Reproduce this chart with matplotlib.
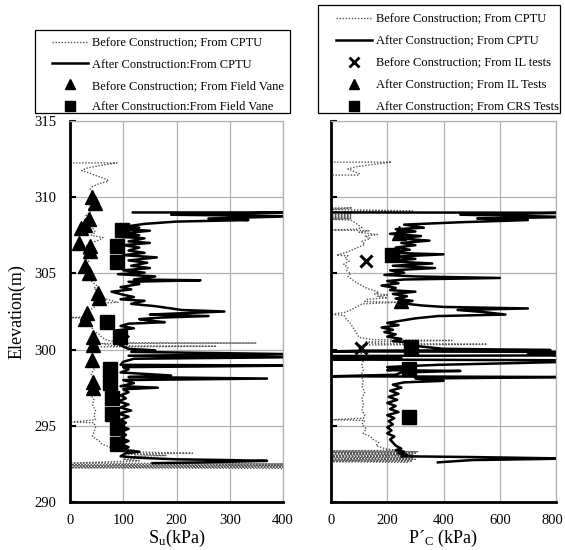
import matplotlib
matplotlib.use("Agg")
import matplotlib.pyplot as plt
from matplotlib.patches import Rectangle
from matplotlib.lines import Line2D
import matplotlib.transforms as mtransforms
import numpy as np

plt.rcParams["font.family"] = ["Liberation Serif", "DejaVu Serif"]
plt.rcParams["mathtext.fontset"] = "stix"

# ---- undrained shear strength profiles, (elevation m, Su kPa) ----
su_cptu_before = [
    (312.25, 0), (312.25, 88), (312.1, 60), (311.9, 30), (311.75, 22), (311.6, 35),
    (311.4, 50), (311.15, 70), (311.05, 72), (310.9, 55), (310.7, 42), (310.5, 38),
    (310.2, 45), (310.0, 40), (309.8, 38), (309.5, 42), (309.2, 35), (309.0, 38),
    (308.8, 30), (308.6, 40), (308.3, 35), (308.0, 42), (307.7, 48), (307.5, 40),
    (307.35, 62), (307.2, 55), (307.0, 40), (306.8, 30), (306.5, 35), (306.2, 25),
    (306.0, 30), (305.8, 35), (305.5, 28), (305.2, 40), (305.0, 38), (304.8, 45),
    (304.5, 40), (304.2, 50), (304.0, 45), (303.8, 55), (303.5, 60), (303.3, 70),
    (303.1, 90), (303.05, 56), (302.9, 50), (302.6, 38), (302.3, 30), (302.15, 25),
    (302.1, 0), (302.05, 25), (301.8, 30), (301.5, 40), (301.2, 45), (301.0, 55),
    (300.8, 60), (300.6, 70), (300.45, 100), (300.43, 350), (300.4, 60), (300.25, 80),
    (300.22, 275), (300.18, 50), (300.0, 45), (299.8, 40), (299.5, 42), (299.2, 38),
    (299.0, 42), (298.7, 45), (298.4, 40), (298.0, 45), (297.6, 42), (297.3, 45),
    (297.0, 40), (296.7, 45), (296.4, 42), (296.0, 48), (295.7, 45), (295.4, 48),
    (295.3, 20), (295.25, 0), (295.2, 45), (294.9, 48), (294.6, 45), (294.3, 42),
    (294.0, 55), (293.8, 60), (293.6, 75), (293.5, 90), (293.4, 120), (293.3, 100),
    (293.2, 230), (293.15, 110), (293.05, 180), (293.0, 120), (292.9, 150), (292.8, 100),
    (292.7, 130), (292.55, 0), (292.5, 400), (292.45, 0), (292.4, 400), (292.35, 0),
    (292.3, 400), (292.25, 0), (292.2, 400),
]
su_cptu_after = [
    (309.0, 118), (309.0, 420), (308.85, 190), (308.75, 420), (308.6, 260), (308.5, 335),
    (308.4, 200), (308.25, 140), (308.1, 110), (308.0, 130), (307.9, 100), (307.8, 150),
    (307.65, 105), (307.5, 130), (307.4, 95), (307.3, 140), (307.1, 110), (307.0, 150),
    (306.85, 100), (306.7, 130), (306.5, 110), (306.35, 140), (306.2, 100), (306.05, 163),
    (305.85, 110), (305.7, 145), (305.5, 115), (305.35, 150), (305.2, 100), (305.05, 140),
    (304.95, 90), (304.8, 160), (304.6, 120), (304.55, 245), (304.45, 110), (304.3, 130),
    (304.1, 95), (303.95, 115), (303.8, 78), (303.6, 100), (303.45, 120), (303.3, 95),
    (303.2, 140), (303.0, 115), (302.85, 160), (302.7, 190), (302.6, 210), (302.5, 290),
    (302.4, 220), (302.3, 150), (302.2, 260), (302.1, 170), (302.0, 130), (301.9, 150),
    (301.8, 178), (301.7, 110), (301.55, 95), (301.4, 120), (301.25, 85), (301.1, 100),
    (301.0, 85), (300.85, 110), (300.7, 95), (300.55, 100), (300.4, 90), (300.2, 100),
    (300.05, 110), (299.95, 160), (299.85, 115), (299.7, 420), (299.6, 110), (299.5, 420),
    (299.4, 120), (299.2, 100), (299.0, 95), (298.95, 420), (298.9, 270), (298.85, 100),
    (298.7, 110), (298.5, 95), (298.3, 190), (298.2, 110), (298.1, 370), (298.0, 100),
    (297.8, 120), (297.6, 95), (297.5, 165), (297.4, 100), (297.2, 110), (297.0, 95),
    (296.8, 105), (296.6, 90), (296.4, 110), (296.2, 95), (296.0, 115), (295.8, 90),
    (295.6, 110), (295.4, 95), (295.2, 105), (295.0, 90), (294.8, 110), (294.6, 95),
    (294.4, 105), (294.2, 95), (294.0, 110), (293.8, 95), (293.6, 110), (293.4, 100),
    (293.3, 130), (293.2, 105), (293.0, 95), (292.9, 130), (292.8, 200), (292.75, 300),
    (292.7, 370), (292.6, 250), (292.55, 155),
]
vane_before_elev = [310.0, 309.6, 308.6, 308.2, 308.0, 307.0, 306.8, 306.5, 305.5, 305.0,
                    303.7, 303.4, 302.4, 302.0, 300.8, 300.3, 299.3, 297.9, 297.5]
vane_before_su = [42, 47, 35, 28, 20, 16, 38, 37, 28, 35,
                  52, 55, 31, 29, 44, 43, 42, 43, 43]
vane_after_elev = [307.85, 306.8, 305.75, 301.8, 300.8, 298.7, 297.8, 296.8, 295.8, 294.85, 293.8]
vane_after_su = [97, 88, 88, 69, 94, 75, 75, 78, 78, 89, 89]

# ---- preconsolidation pressure profiles, (elevation m, P'c kPa) ----
pc_cptu_before = [
    (312.3, 0), (312.3, 215), (312.15, 150), (312.0, 90), (311.85, 60), (311.7, 80),
    (311.55, 100), (311.45, 100), (311.45, 0), (309.3, 0), (309.3, 75), (309.2, 0),
    (309.1, 290), (309.05, 0), (308.9, 70), (308.85, 0), (308.8, 70), (308.75, 0),
    (308.7, 70), (308.65, 0), (308.6, 70), (308.55, 0), (308.5, 70), (308.4, 80),
    (308.2, 95), (308.0, 110), (307.9, 90), (307.85, 0), (307.8, 135), (307.7, 100),
    (307.55, 165), (307.45, 120), (307.3, 140), (307.1, 110), (306.9, 120), (306.7, 95),
    (306.5, 70), (306.35, 50), (306.2, 20), (306.15, 60), (306.0, 50), (305.8, 65),
    (305.6, 45), (305.4, 60), (305.2, 55), (305.0, 70), (304.8, 60), (304.6, 75),
    (304.4, 90), (304.2, 110), (304.0, 130), (303.9, 150), (303.75, 170), (303.65, 155),
    (303.6, 205), (303.5, 165), (303.4, 200), (303.3, 130), (303.15, 120), (303.1, 232),
    (303.0, 110), (302.8, 90), (302.6, 70), (302.45, 50), (302.3, 0), (302.25, 45),
    (302.0, 55), (301.7, 70), (301.4, 80), (301.1, 90), (300.8, 100), (300.65, 150),
    (300.6, 430), (300.5, 120), (300.4, 160), (300.35, 555), (300.3, 110), (300.1, 100),
    (299.9, 110), (299.6, 105), (299.3, 115), (299.0, 110), (298.6, 115), (298.3, 105),
    (298.0, 115), (297.6, 110), (297.2, 120), (296.8, 110), (296.4, 115), (296.0, 110),
    (295.7, 120), (295.5, 115), (295.4, 0), (295.35, 120), (295.1, 110), (294.8, 125),
    (294.5, 115), (294.3, 140), (294.1, 150), (293.9, 170), (293.7, 160), (293.5, 190),
    (293.4, 230), (293.35, 0), (293.3, 310), (293.25, 0), (293.2, 300), (293.15, 0),
    (293.1, 290), (293.05, 0), (293.0, 300), (292.95, 0), (292.9, 290), (292.85, 0),
    (292.8, 300), (292.75, 0), (292.7, 290), (292.65, 0), (292.6, 280),
]
pc_cptu_after = [
    (309.0, 0), (308.98, 850), (308.85, 460), (308.8, 600), (308.7, 850), (308.6, 520),
    (308.5, 700), (308.35, 450), (308.2, 260), (308.0, 330), (307.9, 230), (307.75, 300),
    (307.6, 210), (307.45, 320), (307.3, 240), (307.15, 350), (307.0, 250), (306.85, 300),
    (306.7, 230), (306.55, 280), (306.35, 210), (306.25, 400), (306.1, 230), (305.95, 300),
    (305.8, 200), (305.65, 360), (305.5, 220), (305.35, 370), (305.2, 210), (305.05, 260),
    (304.9, 190), (304.8, 300), (304.7, 600), (304.6, 260), (304.5, 200), (304.35, 240),
    (304.2, 180), (304.05, 230), (303.9, 210), (303.8, 300), (303.65, 220), (303.5, 270),
    (303.35, 230), (303.2, 290), (303.05, 250), (302.9, 320), (302.8, 400), (302.7, 700),
    (302.6, 450), (302.45, 550), (302.3, 620), (302.2, 380), (302.05, 300), (301.9, 250),
    (301.75, 200), (301.6, 240), (301.45, 180), (301.3, 220), (301.15, 190), (301.0, 230),
    (300.85, 200), (300.7, 250), (300.55, 220), (300.45, 300), (300.3, 290), (300.2, 320),
    (300.05, 400), (299.97, 780), (299.93, 120), (299.88, 0), (299.85, 850), (299.7, 700),
    (299.62, 850), (299.58, 0), (299.5, 0), (299.45, 250), (299.35, 0), (299.3, 850),
    (299.2, 850), (299.1, 620), (299.0, 380), (298.9, 250), (298.85, 200), (298.75, 270),
    (298.65, 200), (298.6, 460), (298.5, 250), (298.35, 230), (298.25, 0), (298.2, 850),
    (298.1, 300), (297.95, 400), (297.85, 260), (297.7, 220), (297.5, 250), (297.3, 210),
    (297.1, 240), (296.9, 205), (296.7, 235), (296.5, 200), (296.3, 230), (296.1, 210),
    (295.9, 240), (295.7, 200), (295.5, 225), (295.3, 205), (295.1, 220), (294.9, 200),
    (294.7, 215), (294.5, 200), (294.3, 225), (294.1, 210), (293.9, 220), (293.7, 230),
    (293.5, 250), (293.4, 230), (293.3, 260), (293.2, 240), (293.1, 270), (293.0, 250),
    (292.95, 500), (292.85, 850), (292.75, 500), (292.6, 380),
]
il_before_elev = [305.8, 300.1]
il_before_pc = [125, 108]
il_after_elev = [307.65, 303.2]
il_after_pc = [243, 250]
crs_after_elev = [306.2, 300.2, 298.7, 295.6]
crs_after_pc = [218, 286, 279, 279]

left_xticks = [0, 100, 200, 300, 400]
right_xticks = [0, 200, 400, 600, 800]
yticks = [290, 295, 300, 305, 310, 315]

W, H = 565, 550
fig = plt.figure(figsize=(W / 100, H / 100), dpi=100)


def fig_box(x0, y0, x1, y1):
    """Pixel box (top-left origin) to figure-fraction [l, b, w, h]."""
    return [x0 / W, 1 - y1 / H, (x1 - x0) / W, (y1 - y0) / H]


ax1 = fig.add_axes(fig_box(70, 121, 283, 502))
ax2 = fig.add_axes(fig_box(331, 121, 556, 502))

dot_style = dict(color="#555555", lw=1.0, linestyle=(0, (1, 1.2)))
solid_style = dict(color="black", lw=1.8)


def split(pairs):
    arr = np.array(pairs, dtype=float)
    return arr[:, 1], arr[:, 0]


x, y = split(su_cptu_before)
ax1.plot(x, y, **dot_style)
x, y = split(su_cptu_after)
ax1.plot(x, y, **solid_style)
ax1.plot(vane_before_su, vane_before_elev, linestyle="none", marker="^", ms=10, color="black")
ax1.plot(vane_after_su, vane_after_elev, linestyle="none", marker="s", ms=9.5, color="black")

x, y = split(pc_cptu_before)
ax2.plot(x, y, **dot_style)
x, y = split(pc_cptu_after)
ax2.plot(x, y, **solid_style)
ax2.plot(il_before_pc, il_before_elev, linestyle="none", marker="x", ms=9, mew=2.2, color="black")
ax2.plot(il_after_pc, il_after_elev, linestyle="none", marker="^", ms=10, color="black")
ax2.plot(crs_after_pc, crs_after_elev, linestyle="none", marker="s", ms=9.5, color="black")

for ax, xt in ((ax1, left_xticks), (ax2, right_xticks)):
    ax.set_xlim(xt[0], xt[-1])
    ax.set_ylim(290, 315)
    ax.set_xticks(xt)
    ax.set_yticks(yticks)
    ax.grid(True, color="#b0b0b0", lw=0.9)
    ax.set_axisbelow(True)
    for side in ("top", "right"):
        ax.spines[side].set_color("#b0b0b0")
        ax.spines[side].set_linewidth(0.9)
    for side in ("left", "bottom"):
        ax.spines[side].set_color("black")
        ax.spines[side].set_linewidth(2.0)
    ax.tick_params(axis="x", length=0, pad=9, labelsize=10.5)
    ax.tick_params(axis="y", direction="in", length=4, width=1.5, pad=10, labelsize=10.5)

ax2.tick_params(axis="y", labelleft=False)

# keep the last tick label of the right panel inside the canvas
last = ax2.get_xticklabels()[-1]
last.set_transform(last.get_transform()
                   + mtransforms.ScaledTranslation(-4 / 100, 0, fig.dpi_scale_trans))

ax1.set_ylabel("Elevation(m)", fontsize=13, labelpad=6)
ax1.set_xlabel(r"S$_\mathregular{u}$(kPa)", fontsize=13, labelpad=0)
ax2.set_xlabel("P\u00b4$_\\mathregular{C}$ (kPa)", fontsize=13, labelpad=0)

# ---- legends ----
before_line = Line2D([], [], **dot_style)
after_line = Line2D([], [], **solid_style)
tri = Line2D([], [], linestyle="none", marker="^", ms=7, color="black")
sq = Line2D([], [], linestyle="none", marker="s", ms=7, color="black")
cross = Line2D([], [], linestyle="none", marker="x", ms=6.5, mew=2, color="black")

leg_kw = dict(frameon=False, fontsize=9, borderpad=0, handlelength=2.85,
              handletextpad=0.35, loc="upper left")

leg1 = fig.legend(
    [before_line, after_line, tri, sq],
    ["Before Construction; From CPTU", "After Construction:From CPTU",
     "Before Construction; From Field Vane", "After Construction:From Field Vane"],
    bbox_to_anchor=(46 / W, 1 - 31 / H), labelspacing=0.74, **leg_kw)
leg2 = fig.legend(
    [before_line, after_line, cross, tri, sq],
    ["Before Construction; From CPTU", "After Construction; From CPTU",
     "Before Construction; From IL tests", "After Construction; From IL Tests",
     "After Construction; From CRS Tests"],
    bbox_to_anchor=(330 / W, 1 - 7 / H), labelspacing=0.8, **leg_kw)

for (x0, y0, x1, y1) in ((35, 30, 290, 113), (318, 5, 560, 113)):
    l, b, w, h = fig_box(x0, y0, x1, y1)
    fig.patches.append(Rectangle((l, b), w, h, transform=fig.transFigure,
                                 fill=False, edgecolor="black", lw=0.9))

fig.savefig("out.png", dpi=100)
